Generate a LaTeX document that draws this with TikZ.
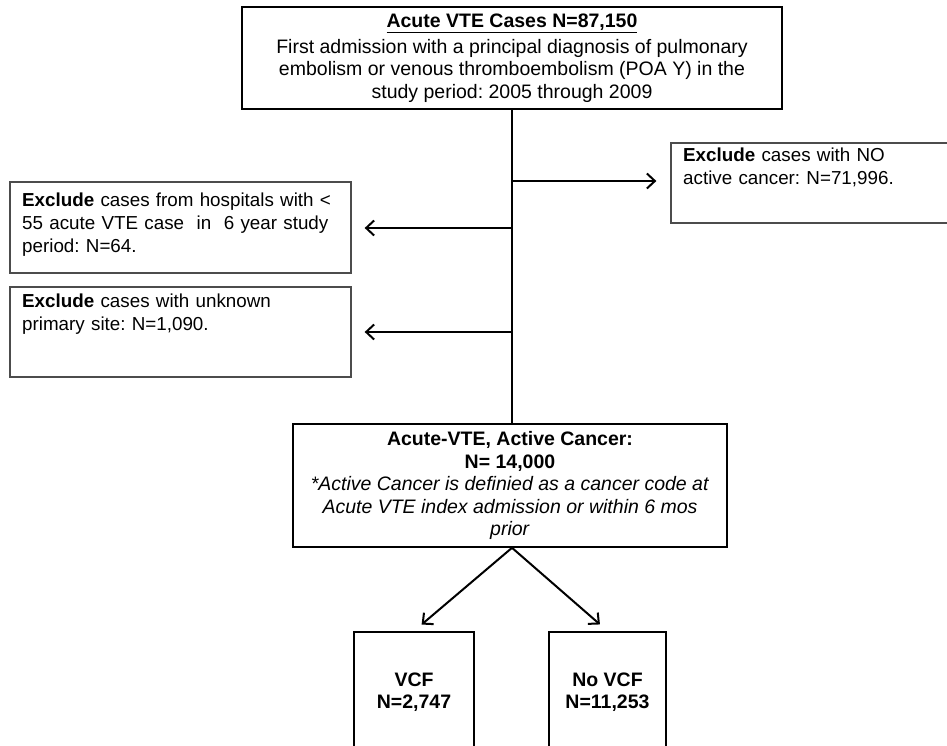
\documentclass[tikz,border=0pt]{standalone}
\usepackage{fontspec}
\setmainfont{Liberation Sans}
\frenchspacing
\usetikzlibrary{arrows.meta}
\tikzset{
  txt/.style={font=\fontsize{19.5}{22.5}\selectfont, inner sep=0pt},
  mainbox/.style={draw=black, line width=1.8pt, inner sep=0pt, align=center, txt},
  exbox/.style={draw=black!70, line width=1.3pt, inner sep=0pt, minimum width=341pt},
  extext/.style={inner sep=0pt, font=\fontsize{18.8}{22.8}\selectfont, anchor=north west, align=left, text width=340pt},
  conn/.style={line width=2pt, black},
  arr/.style={conn, -{Straight Barb[length=8pt,width=15pt,line width=2pt]}}
}
\begin{document}
\begin{tikzpicture}[x=1pt,y=-1pt]
\clip (0,0) rectangle (947,746);
\fill[white] (0,0) rectangle (947,746);

% top box
\node[mainbox, minimum width=540pt, minimum height=102pt] (top) at (512,58)
  {\underline{\textbf{Acute VTE Cases N=87,150}}\\[3pt]
   First admission with a principal diagnosis of pulmonary\\
   embolism or venous thromboembolism (POA Y) in the\\
   study period: 2005 through 2009};

% exclusion boxes
\node[exbox, minimum width=290pt, minimum height=80pt] (exr) at (816,183) {};
\node[extext, text width=260pt] (exrt) at (683,148)
  {\textbf{Exclude} cases with NO\\ active cancer: N=71,996.};

\node[exbox, minimum height=91pt] (ex1) at (180.5,227.5) {};
\node[extext] (ex1t) at (22,193)
  {\textbf{Exclude} cases from hospitals with <\\ 55 acute VTE case\ \ in\ \ 6 year study\\ period: N=64.};

\node[exbox, minimum height=90pt] (ex2) at (180.5,332) {};
\node[extext] (ex2t) at (22,294)
  {\textbf{Exclude} cases with unknown\\ primary site: N=1,090.};

% middle box
\node[mainbox, line width=1.6pt, minimum width=434pt, minimum height=123pt] (mid) at (510,485.5)
  {\textbf{Acute-VTE, Active Cancer:}\\
   \textbf{N= 14,000}\\
   \textit{*Active Cancer is definied as a cancer code at}\\
   \textit{Acute VTE index admission or within 6 mos}\\
   \textit{prior}};

% bottom boxes
\node[mainbox, minimum width=120pt, minimum height=140pt, anchor=north] (vcf) at (414,631) {};
\node[txt, align=center, font=\fontsize{19.5}{22.5}\selectfont\bfseries] (vcft) at (414,692) {VCF\\ N=2,747};
\node[mainbox, minimum width=117pt, minimum height=140pt, anchor=north] (nvcf) at (607.5,631) {};
\node[txt, align=center, font=\fontsize{19.5}{22.5}\selectfont\bfseries] (nvcft) at (607.5,692) {No VCF\\ N=11,253};

% trunk and branches
\coordinate (j1) at (top.south |- 0,181);
\coordinate (j2) at (top.south |- 0,228);
\coordinate (j3) at (top.south |- 0,332);
\draw[conn] (top.south) -- (top.south |- mid.north);
\draw[arr, shorten >=14pt] (j1) -- (j1 -| exr.west);
\draw[arr, shorten >=13pt] (j2) -- (j2 -| ex1.east);
\draw[arr, shorten >=13pt] (j3) -- (j3 -| ex2.east);

% split
\coordinate (sp) at (top.south |- mid.south);
\draw[arr, shorten >=10pt] (sp) -- (vcf.north);
\draw[arr, shorten >=10pt] (sp) -- (nvcf.north);
\end{tikzpicture}
\end{document}
